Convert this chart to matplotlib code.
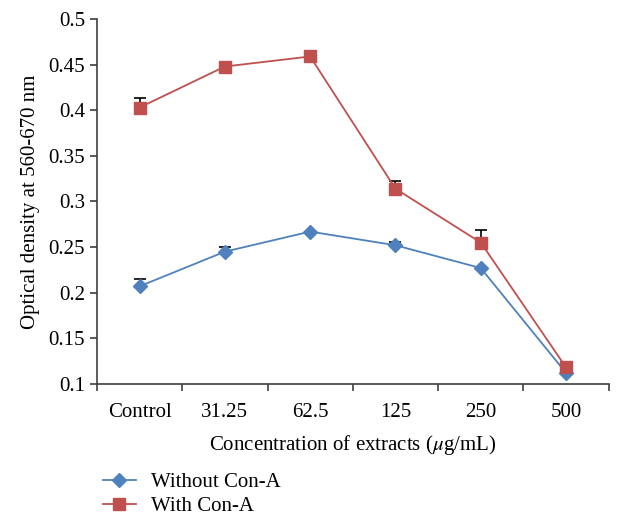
import numpy as np
import matplotlib
matplotlib.use("Agg")
import matplotlib.pyplot as plt

# Data
categories = ["Control", "31.25", "62.5", "125", "250", "500"]
without_cona = [0.207, 0.245, 0.267, 0.252, 0.227, 0.112]
without_err = [0.008, 0.005, 0.0, 0.004, 0.0, 0.0]
with_cona = [0.403, 0.448, 0.459, 0.314, 0.255, 0.118]
with_err = [0.011, 0.0, 0.0, 0.008, 0.014, 0.0]

plt.rcParams['font.family'] = ['Liberation Serif', 'DejaVu Serif']
plt.rcParams['mathtext.fontset'] = 'stix'
plt.rcParams['font.size'] = 15

fig = plt.figure(figsize=(6.25, 5.16), dpi=100)
ax = fig.add_axes([0.155, 0.256, 0.819, 0.707])

x = np.arange(len(categories))
blue = "#4F81BD"
red = "#C0504D"

# upper error bars only
ax.errorbar(x, without_cona, yerr=[np.zeros(len(x)), without_err], fmt='none',
            ecolor='black', elinewidth=1.2, capsize=4, capthick=1.2, zorder=2)
ax.errorbar(x, with_cona, yerr=[np.zeros(len(x)), with_err], fmt='none',
            ecolor='black', elinewidth=1.2, capsize=4, capthick=1.2, zorder=2)

ax.plot(x, without_cona, color=blue, marker='D', markersize=7, lw=1.3,
        label='Without Con-A', zorder=3)
ax.plot(x, with_cona, color=red, marker='s', markersize=9, lw=1.3,
        label='With Con-A', zorder=3)

ax.set_xlim(-0.5, len(categories) - 0.5)
ax.set_ylim(0.1, 0.5)
ax.set_yticks(np.arange(0.1, 0.51, 0.05))
ax.set_yticklabels(["0.1", "0.15", "0.2", "0.25", "0.3", "0.35", "0.4", "0.45", "0.5"])

# category boundaries get tick marks, labels sit between them
ax.set_xticks(np.arange(-0.5, len(categories), 1.0))
ax.set_xticklabels([])
ax.set_xticks(x, minor=True)
ax.set_xticklabels(categories, minor=True)
ax.tick_params(axis='x', which='minor', length=0, pad=14)
ax.tick_params(axis='x', which='major', length=5, width=1.2, color='#404040')
ax.tick_params(axis='y', length=5, width=1.2, color='#404040')

for s in ['top', 'right']:
    ax.spines[s].set_visible(False)
for s in ['left', 'bottom']:
    ax.spines[s].set_linewidth(1.2)
    ax.spines[s].set_color('#404040')

ax.set_ylabel("Optical density at 560-670 nm", labelpad=6)
ax.set_xlabel(r"Concentration of extracts ($\mu$g/mL)", labelpad=8)

ax.legend(loc='upper left', bbox_to_anchor=(-0.005, -0.22), frameon=False,
          handlelength=1.6, handletextpad=0.7, labelspacing=0.2, borderaxespad=0)

fig.savefig("out.png", dpi=100)
